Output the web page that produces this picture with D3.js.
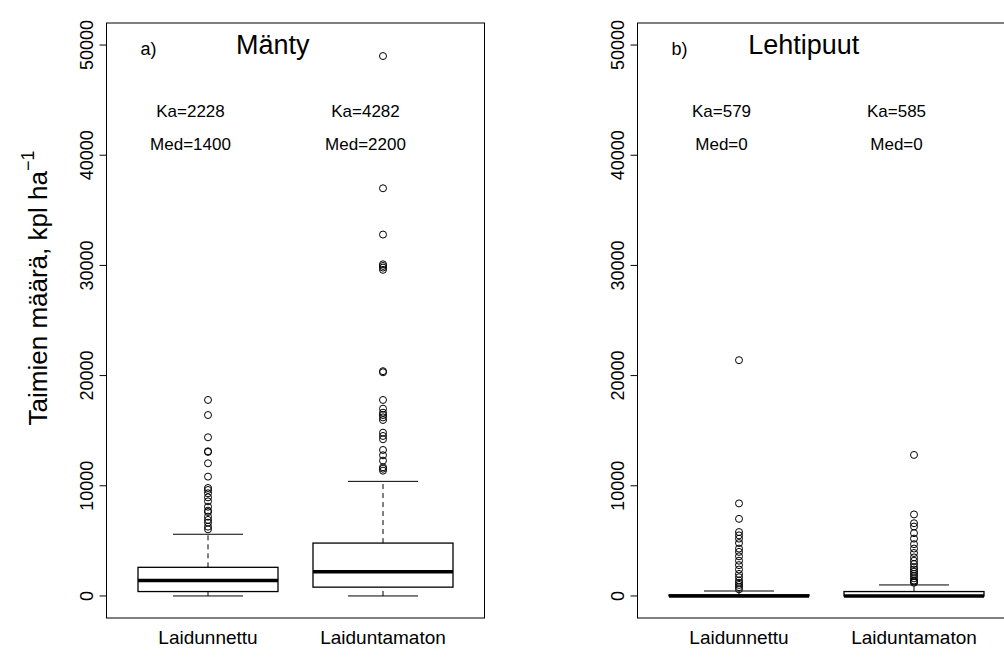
<!DOCTYPE html>
<html>
<head>
<meta charset="utf-8">
<script src="https://cdn.jsdelivr.net/npm/d3@7"></script>
<style>
  body { margin: 0; background: #fff; }
  text { font-family: "Liberation Sans", Arial, sans-serif; fill: #000; }
</style>
</head>
<body>
<div id="chart"></div>
<script>
// ryhmät ja akselin jaot
const groups = ["Laidunnettu", "Laiduntamaton"];
const yTicks = [0, 10000, 20000, 30000, 40000, 50000];

// laatikon tunnusluvut: [alaviiksi, Q1, mediaani, Q3, yläviiksi]
const mantyBox = [[0, 400, 1400, 2600, 5600], [0, 800, 2200, 4800, 10400]];
const lehtiBox = [[0, 0, 0, 100, 450], [0, 0, 0, 400, 1000]];

// poikkeavat havainnot
const mantyOut1 = [6050, 6290, 6650, 6900, 7200, 7620, 7740, 8100, 8590, 8950, 9320, 9620, 9800,
  10830, 12040, 13070, 13130, 14400, 16420, 17790];
const mantyOut2 = [11370, 11550, 11680, 12280, 12770, 13250, 14220, 14520, 14820, 15970, 16210,
  16420, 16630, 17000, 17790, 20300, 20400, 29600, 29800, 29950, 30100, 32800, 37000, 49000];
const lehtiOut1 = [600, 800, 1000, 1200, 1400, 1700, 2000, 2400, 2800, 3200, 3600, 4000, 4300,
  4800, 5200, 5500, 5800, 7000, 8400, 21400];
const lehtiOut2 = [1200, 1300, 1400, 1600, 1800, 2000, 2200, 2400, 2600, 2900, 3200, 3500, 3900,
  4300, 4700, 5200, 5700, 6300, 6600, 7400, 12800];

// keskiarvot ja mediaanit
const mantyMean = [2228, 4282];
const mantyMed = [1400, 2200];
const lehtiMean = [579, 585];
const lehtiMed = [0, 0];

const W = 1004, H = 657;
const svg = d3.select("#chart").append("svg").attr("width", W).attr("height", H);
svg.append("rect").attr("width", W).attr("height", H).attr("fill", "white");

const y = d3.scaleLinear().domain([-2000, 52000]).range([618, 23]);

function panel(left, title, letter, box, outs, mean, med)
{
  let right = left + 378;
  let x = d3.scaleLinear().domain([0.42, 2.58]).range([left, right]);
  let g = svg.append("g");

  // kehys
  g.append("rect").attr("x", left).attr("y", y(52000))
    .attr("width", right - left).attr("height", y(-2000) - y(52000))
    .attr("fill", "none").attr("stroke", "#000").attr("stroke-width", 1);

  // y-akseli
  let ax = g.append("g").attr("transform", "translate(" + left + ",0)")
    .call(d3.axisLeft(y).tickValues(yTicks).tickSize(7).tickFormat(d3.format("d")));
  ax.select(".domain").remove();
  ax.selectAll("line").attr("stroke", "#000");
  ax.selectAll("text")
    .attr("x", 0).attr("y", 0).attr("dy", null)
    .attr("transform", d => "translate(-20," + y(d) + ") rotate(-90)")
    .attr("text-anchor", "middle")
    .attr("dominant-baseline", "central")
    .style("font-size", "18px")
    .style("font-family", "Liberation Sans, Arial, sans-serif");
  ax.selectAll(".tick").attr("transform", null);
  ax.selectAll(".tick line").attr("y1", d => y(d)).attr("y2", d => y(d));
  ax.append("line").attr("x1", 0).attr("x2", 0).attr("y1", y(0)).attr("y2", y(50000)).attr("stroke", "#000");

  // x-akselin nimet
  g.selectAll(".xl").data(groups).enter().append("text")
    .attr("x", (d, i) => x(i + 1)).attr("y", 644)
    .attr("text-anchor", "middle").style("font-size", "19px")
    .text(d => d);

  box.forEach(function (b, i) {
    let cx = x(i + 1);
    let hw = 70;
    // viikset
    g.append("line").attr("x1", cx).attr("x2", cx).attr("y1", y(b[0])).attr("y2", y(b[1]))
      .attr("stroke", "#000").attr("stroke-dasharray", "5,4");
    g.append("line").attr("x1", cx).attr("x2", cx).attr("y1", y(b[3])).attr("y2", y(b[4]))
      .attr("stroke", "#000").attr("stroke-dasharray", "5,4");
    g.append("line").attr("x1", cx - hw / 2).attr("x2", cx + hw / 2).attr("y1", y(b[0])).attr("y2", y(b[0]))
      .attr("stroke", "#000");
    g.append("line").attr("x1", cx - hw / 2).attr("x2", cx + hw / 2).attr("y1", y(b[4])).attr("y2", y(b[4]))
      .attr("stroke", "#000");
    // laatikko
    g.append("rect").attr("x", cx - hw).attr("width", 2 * hw)
      .attr("y", y(b[3])).attr("height", Math.max(0, y(b[1]) - y(b[3])))
      .attr("fill", "white").attr("stroke", "#000").attr("stroke-width", 1.3);
    g.append("line").attr("x1", cx - hw).attr("x2", cx + hw).attr("y1", y(b[2])).attr("y2", y(b[2]))
      .attr("stroke", "#000").attr("stroke-width", 3.5);
    // poikkeavat
    g.selectAll(".o" + i).data(outs[i]).enter().append("circle")
      .attr("cx", cx).attr("cy", d => y(d)).attr("r", 3.5)
      .attr("fill", "none").attr("stroke", "#000").attr("stroke-width", 1);
    // Ka / Med
    g.append("text").attr("x", x(i + 0.9)).attr("y", y(44000)).attr("dominant-baseline", "central")
      .attr("text-anchor", "middle").style("font-size", "17px").text("Ka=" + mean[i]);
    g.append("text").attr("x", x(i + 0.9)).attr("y", y(41000)).attr("dominant-baseline", "central")
      .attr("text-anchor", "middle").style("font-size", "17px").text("Med=" + med[i]);
  });

  g.append("text").attr("x", x(0.66)).attr("y", y(49600)).attr("dominant-baseline", "central")
    .attr("text-anchor", "middle").style("font-size", "18px").text(letter);
  g.append("text").attr("x", x(1.37)).attr("y", y(50000)).attr("dominant-baseline", "central")
    .attr("text-anchor", "middle").style("font-size", "27px").text(title);
}

panel(106.5, "Mänty", "a)", mantyBox, [mantyOut1, mantyOut2], mantyMean, mantyMed);
panel(637.5, "Lehtipuut", "b)", lehtiBox, [lehtiOut1, lehtiOut2], lehtiMean, lehtiMed);

// y-akselin otsikko
let yt = svg.append("text")
  .attr("transform", "translate(38," + 288 + ") rotate(-90)")
  .attr("text-anchor", "middle").attr("dominant-baseline", "central")
  .style("font-size", "26px");
yt.append("tspan").text("Taimien määrä, kpl ha");
yt.append("tspan").attr("dy", "-0.55em").style("font-size", "18px").text("\u22121");
</script>
</body>
</html>
